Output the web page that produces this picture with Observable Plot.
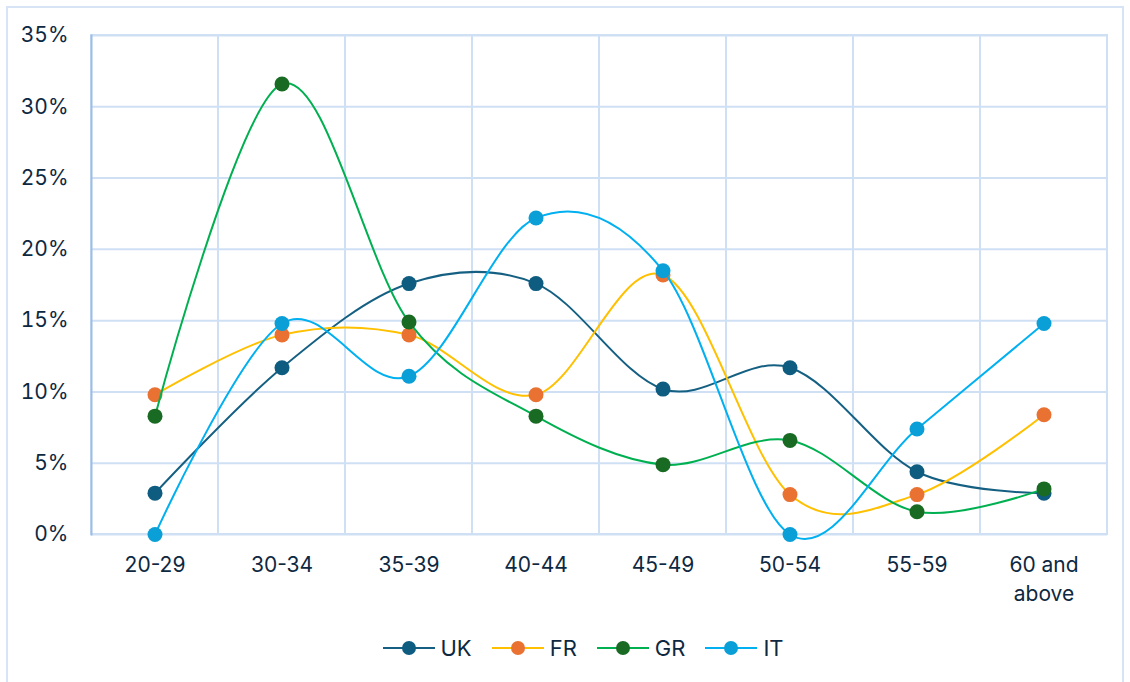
<!DOCTYPE html>
<html>
<head>
<meta charset="utf-8">
<script src="https://cdn.jsdelivr.net/npm/d3@7"></script>
<script src="https://cdn.jsdelivr.net/npm/@observablehq/plot@0.6"></script>
<style>
  html, body { margin: 0; padding: 0; background: #fff; width: 1130px; height: 682px; overflow: hidden; }
  #frame { position: absolute; left: 6px; top: 6px; width: 1118px; height: 700px; border: 2px solid #D6E4F5; box-sizing: border-box; }
  #chart { position: absolute; left: 0; top: 0; }
  #legend { position: absolute; left: 18px; top: 634px; width: 1130px; display: flex; justify-content: center; font-family: Inter, "Open Sans", sans-serif; font-size: 22px; color: #0E2841; }
  .item { display: flex; align-items: center; margin: 0 10px; }
  .item span { margin-left: 6px; }
</style>
</head>
<body>
<div id="frame"></div>
<div id="chart"></div>
<div id="legend"></div>
<script>
const categories = ["20-29", "30-34", "35-39", "40-44", "45-49", "50-54", "55-59", "60 and above"];
const seriesNames = ["UK", "FR", "GR", "IT"];
const ukValues = [2.9, 11.7, 17.6, 17.6, 10.2, 11.7, 4.4, 2.9];
const frValues = [9.8, 14.0, 14.0, 9.8, 18.2, 2.8, 2.8, 8.4];
const grValues = [8.3, 31.6, 14.9, 8.3, 4.9, 6.6, 1.6, 3.2];
const itValues = [0.0, 14.8, 11.1, 22.2, 18.5, 0.0, 7.4, 14.8];
const yTicks = [0, 5, 10, 15, 20, 25, 30, 35];

const lineColors = ["#156082", "#FFC000", "#00B050", "#00B0F0"];
const dotColors = ["#0E5C80", "#E97132", "#196B24", "#0A9FD6"];
const gridColor = "#CFE0F4";
const textColor = "#0E2841";

const valuesBySeries = [ukValues, frValues, grValues, itValues];
const series = seriesNames.map((name, i) => ({
  name,
  line: lineColors[i],
  dot: dotColors[i],
  data: categories.map((c, j) => ({ category: c, value: valuesBySeries[i][j] }))
}));

const marks = [
  Plot.cell(categories, { x: d => d, fill: "none", stroke: gridColor, strokeWidth: 2 }),
  Plot.gridY(yTicks, { stroke: gridColor, strokeOpacity: 1, strokeWidth: 2 }),
  Plot.frame({ anchor: "left", stroke: "#9BBDE6", strokeWidth: 2 }),
  Plot.axisY(yTicks, { tickSize: 0, tickPadding: 23, tickFormat: d => d + "%", fill: textColor, fontSize: 21, label: null }),
  Plot.axisX({ tickSize: 0, tickPadding: 17, tickFormat: d => d.replace(" and ", " and\n"), fill: textColor, fontSize: 21, lineHeight: 1.38, label: null })
];
for (const s of series) {
  marks.push(Plot.line(s.data, { x: "category", y: "value", stroke: s.line, strokeWidth: 2, curve: "cardinal", tension: 0 }));
  marks.push(Plot.dot(s.data, { x: "category", y: "value", fill: s.dot, r: 7.5, stroke: "none" }));
}

const chart = Plot.plot({
  width: 1130,
  height: 620,
  marginLeft: 91,
  marginRight: 23,
  marginTop: 35,
  marginBottom: 86,
  x: { domain: categories, padding: 0 },
  y: { domain: [0, 35] },
  style: { fontFamily: "Inter, 'Open Sans', sans-serif", fontSize: "21px", color: textColor, background: "transparent", overflow: "visible" },
  marks
});
document.getElementById("chart").appendChild(chart);

const legend = document.getElementById("legend");
for (const s of series) {
  const item = document.createElement("div");
  item.className = "item";
  item.innerHTML = `<svg width="52" height="28"><line x1="0" x2="52" y1="14" y2="14" stroke="${s.line}" stroke-width="2"/><circle cx="26" cy="14" r="7" fill="${s.dot}"/></svg><span>${s.name}</span>`;
  legend.appendChild(item);
}
</script>
</body>
</html>
